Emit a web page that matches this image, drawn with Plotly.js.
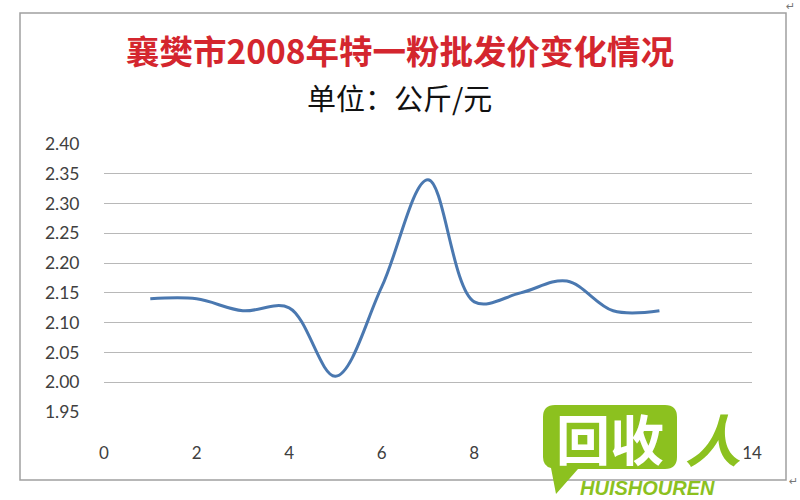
<!DOCTYPE html>
<html>
<head>
<meta charset="utf-8">
<script src="https://cdn.plot.ly/plotly-3.0.1.min.js"></script>
<style>html,body{margin:0;padding:0;background:#fff;}#chart{width:800px;height:500px;}</style>
</head>
<body>
<div id="chart"></div>
<script>
// ---- data ----
const months = [1, 2, 3, 4, 5, 6, 7, 8, 9, 10, 11, 12];
const prices = [2.14, 2.14, 2.12, 2.125, 2.01, 2.16, 2.34, 2.135, 2.15, 2.17, 2.12, 2.12];
const titleText = "襄樊市2008年特一粉批发价变化情况";
const subtitleText = "单位：公斤/元";
const xTicks = [0, 2, 4, 6, 8, 10, 12, 14];
// 10 and 12 are hidden behind the watermark in the reference
const xTickText = ["0", "2", "4", "6", "8", "", "", "14"];
const yTicks = [1.95, 2.00, 2.05, 2.10, 2.15, 2.20, 2.25, 2.30, 2.35, 2.40];

// ---- geometry helpers (pixel -> paper) ----
const W = 800, H = 500;
const M = {l: 104, r: 48, t: 144, b: 88};
const PW = W - M.l - M.r, PH = H - M.t - M.b;
const px = x => (x - M.l) / PW;
const py = y => 1 - (y - M.t) / PH;

const green = "#8cc11f";

function bubblePath() {
  const x0 = px(543), x1 = px(677), y0 = py(405), y1 = py(469);
  const rx = 12 / PW, ry = 12 / PH;
  return `M ${x0 + rx} ${y0} L ${x1 - rx} ${y0} Q ${x1} ${y0} ${x1} ${y0 - ry} ` +
    `L ${x1} ${y1 + ry} Q ${x1} ${y1} ${x1 - rx} ${y1} L ${px(578)} ${y1} ` +
    `L ${px(556)} ${py(494)} L ${px(551)} ${py(468)} Q ${x0} ${py(466)} ${x0} ${y1 + ry} ` +
    `L ${x0} ${y0 - ry} Q ${x0} ${y0} ${x0 + rx} ${y0} Z`;
}

const trace = {
  x: months,
  y: prices,
  type: "scatter",
  mode: "lines",
  line: {shape: "spline", smoothing: 1, color: "#4a78b0", width: 3},
  hoverinfo: "x+y"
};

const layout = {
  width: W, height: H,
  margin: M,
  paper_bgcolor: "#ffffff",
  plot_bgcolor: "#ffffff",
  showlegend: false,
  font: {family: "Lato, 'Noto Sans', sans-serif", color: "#404040"},
  title: {
    text: "<b>" + titleText + "</b>",
    font: {family: "'Noto Sans CJK SC', sans-serif", size: 33.5, color: "#d4262e"},
    x: 0.5, xref: "container", xanchor: "center",
    y: 1 - 52 / H, yref: "container", yanchor: "middle"
  },
  xaxis: {
    range: [0, 14],
    tickvals: xTicks,
    ticktext: xTickText,
    showgrid: false, zeroline: false, showline: false,
    ticks: "outside", ticklen: 26, tickcolor: "rgba(0,0,0,0)",
    tickfont: {family: "Lato, sans-serif", size: 17, color: "#404040"},
    fixedrange: true
  },
  yaxis: {
    range: [1.95, 2.40],
    tickvals: yTicks,
    ticktext: yTicks.map(v => v.toFixed(2)),
    showgrid: true, gridcolor: "#b8b8b8", gridwidth: 1,
    zeroline: false, showline: false,
    ticks: "outside", ticklen: 20, tickcolor: "rgba(0,0,0,0)",
    tickfont: {family: "Lato, sans-serif", size: 17.5, color: "#404040"},
    fixedrange: true
  },
  shapes: [
    {type: "rect", xref: "paper", yref: "paper", layer: "below",
     x0: px(20), x1: px(786), y0: py(13), y1: py(480),
     line: {color: "#a0a0a0", width: 1.5}, fillcolor: "rgba(0,0,0,0)"},
    {type: "path", xref: "paper", yref: "paper", layer: "above",
     path: bubblePath(), fillcolor: green, line: {width: 0}}
  ],
  annotations: [
    {text: subtitleText, xref: "paper", yref: "paper", x: px(399), y: py(97),
     xanchor: "center", yanchor: "middle", showarrow: false,
     font: {family: "'Noto Sans CJK SC', sans-serif", size: 29, color: "#111111"}},
    {text: "<b>回收</b>", xref: "paper", yref: "paper", x: px(610), y: py(437),
     xanchor: "center", yanchor: "middle", showarrow: false,
     font: {family: "'Noto Sans CJK SC', sans-serif", size: 54, color: "#ffffff"}},
    {text: "<b><i>人</i></b>", xref: "paper", yref: "paper", x: px(713), y: py(437),
     xanchor: "center", yanchor: "middle", showarrow: false,
     font: {family: "'Noto Sans CJK SC', sans-serif", size: 56, color: green}},
    {text: "<b><i>HUISHOUREN</i></b>", xref: "paper", yref: "paper", x: px(647), y: py(488),
     xanchor: "center", yanchor: "middle", showarrow: false,
     font: {family: "'Liberation Sans', sans-serif", size: 20, color: green}},
    {text: "↵", xref: "paper", yref: "paper", x: px(790), y: py(6),
     xanchor: "center", yanchor: "middle", showarrow: false,
     font: {family: "'DejaVu Sans', sans-serif", size: 11, color: "#777777"}},
    {text: "↵", xref: "paper", yref: "paper", x: px(793), y: py(481),
     xanchor: "center", yanchor: "middle", showarrow: false,
     font: {family: "'DejaVu Sans', sans-serif", size: 11, color: "#777777"}}
  ]
};

Plotly.newPlot("chart", [trace], layout, {displayModeBar: false, staticPlot: true});
</script>
</body>
</html>
